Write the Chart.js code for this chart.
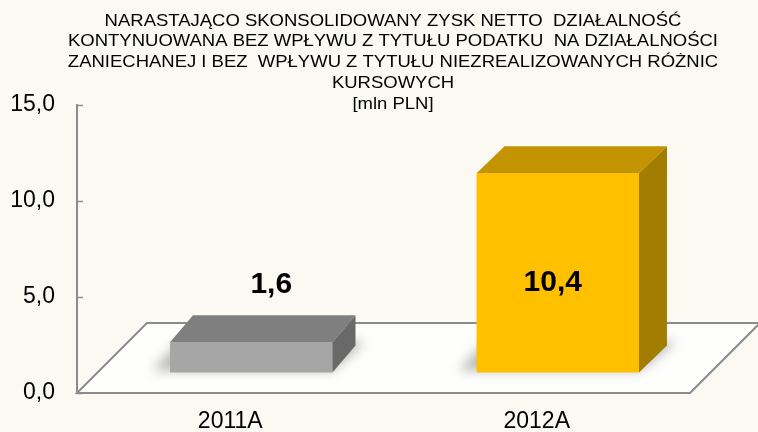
<!DOCTYPE html>
<html><head><meta charset="utf-8">
<script src="https://cdn.jsdelivr.net/npm/chart.js@4/dist/chart.umd.min.js"></script>
<style>
html,body{margin:0;padding:0;background:#FBF9F2;}
canvas{display:block;}
</style></head>
<body><canvas id="c" width="758" height="432"></canvas>
<script>
const TITLE_LINES = [
  'NARASTAJĄCO SKONSOLIDOWANY ZYSK NETTO  DZIAŁALNOŚĆ',
  'KONTYNUOWANA BEZ WPŁYWU Z TYTUŁU PODATKU  NA DZIAŁALNOŚCI',
  'ZANIECHANEJ I BEZ  WPŁYWU Z TYTUŁU NIEZREALIZOWANYCH RÓŻNIC',
  'KURSOWYCH',
  '[mln PLN]'
];
const CATEGORIES = ['2011A', '2012A'];
const VALUES = [1.6, 10.4];
const VALUE_LABELS = ['1,6', '10,4'];
const Y_MIN = 0, Y_MAX = 15, Y_STEP = 5;
const FRONT_COLORS = ['#A6A6A6', '#FFC000'];
const TOP_COLORS = ['#7F7F7F', '#C49300'];
const SIDE_COLORS = ['#696969', '#A37D00'];

const FONT = '"Liberation Sans", Arial, sans-serif';
const FLOOR_DEPTH = {dx: 70, dy: -70};
const BAR_SHIFT = {dx: 21, dy: -20};
const BAR_DEPTH_DX = [23, 28];
const BAR_DEPTH_DY = -27;
const LABEL_POS = [{dx: 41, mode: 'above', gap: 58}, {dx: 16, mode: 'fixed', value: 5.72}];
const TITLE_STYLE = {size: 16.5, scaleX: 1.12, cx: 393, y0: 21, step: 20.8};

const scene3d = {
  id: 'scene3d',
  beforeDraw(chart) {
    const ctx = chart.ctx;
    ctx.save();
    ctx.fillStyle = '#FBF9F2';
    ctx.fillRect(0, 0, chart.width, chart.height);
    ctx.restore();
  },
  beforeDatasetsDraw(chart) {
    const {ctx, chartArea: a} = chart;
    ctx.save();
    ctx.beginPath();
    ctx.moveTo(a.left, a.bottom);
    ctx.lineTo(a.right, a.bottom);
    ctx.lineTo(a.right + FLOOR_DEPTH.dx, a.bottom + FLOOR_DEPTH.dy);
    ctx.lineTo(a.left + FLOOR_DEPTH.dx, a.bottom + FLOOR_DEPTH.dy);
    ctx.closePath();
    ctx.fillStyle = '#FEFEFC';
    ctx.fill();
    ctx.strokeStyle = '#8C8C8C';
    ctx.lineWidth = 2;
    ctx.stroke();
    // soft shadows on the floor
    const meta = chart.getDatasetMeta(0);
    meta.data.forEach((el, i) => {
      const p = el.getProps(['x', 'y', 'base', 'width'], true);
      const l = p.x - p.width / 2 + BAR_SHIFT.dx, r = p.x + p.width / 2 + BAR_SHIFT.dx;
      const b = p.base + BAR_SHIFT.dy;
      ctx.save();
      ctx.filter = 'blur(6px)';
      ctx.fillStyle = 'rgba(0,0,0,0.28)';
      ctx.beginPath();
      ctx.moveTo(l - 18, b - 2);
      ctx.lineTo(r, b - 2);
      ctx.lineTo(r + BAR_DEPTH_DX[i] + 10, b + BAR_DEPTH_DY - 4);
      ctx.lineTo(l + 10, b + BAR_DEPTH_DY - 4);
      ctx.closePath();
      ctx.fill();
      ctx.restore();
    });
    ctx.restore();
  },
  beforeDatasetDraw(chart) {
    chart.ctx.save();
    chart.ctx.translate(BAR_SHIFT.dx, BAR_SHIFT.dy);
  },
  afterDatasetDraw(chart) {
    const ctx = chart.ctx;
    const meta = chart.getDatasetMeta(0);
    meta.data.forEach((el, i) => {
      const p = el.getProps(['x', 'y', 'base', 'width'], true);
      const l = p.x - p.width / 2, r = p.x + p.width / 2, t = p.y, b = p.base;
      const dx = BAR_DEPTH_DX[i], dy = BAR_DEPTH_DY;
      ctx.fillStyle = TOP_COLORS[i];
      ctx.beginPath();
      ctx.moveTo(l, t); ctx.lineTo(r, t); ctx.lineTo(r + dx, t + dy); ctx.lineTo(l + dx, t + dy); ctx.closePath();
      ctx.fill();
      ctx.fillStyle = SIDE_COLORS[i];
      ctx.beginPath();
      ctx.moveTo(r, t); ctx.lineTo(r + dx, t + dy); ctx.lineTo(r + dx, b + dy); ctx.lineTo(r, b); ctx.closePath();
      ctx.fill();
    });
    ctx.restore();
  },
  afterDraw(chart) {
    const {ctx, chartArea: a, scales} = chart;
    ctx.save();
    // inward tick marks
    ctx.strokeStyle = '#8C8C8C';
    ctx.lineWidth = 1.5;
    scales.y.ticks.forEach((tk) => {
      const y = Math.round(scales.y.getPixelForValue(tk.value)) + 0.5;
      ctx.beginPath(); ctx.moveTo(a.left, y); ctx.lineTo(a.left + 6, y); ctx.stroke();
    });
    // title
    ctx.fillStyle = '#000';
    ctx.font = TITLE_STYLE.size + 'px ' + FONT;
    ctx.textAlign = 'center';
    ctx.textBaseline = 'middle';
    TITLE_LINES.forEach((line, i) => {
      ctx.save();
      ctx.translate(TITLE_STYLE.cx, TITLE_STYLE.y0 + i * TITLE_STYLE.step);
      ctx.scale(TITLE_STYLE.scaleX, 1);
      ctx.fillText(line, 0, 0);
      ctx.restore();
    });
    // value labels
    ctx.font = 'bold 30px ' + FONT;
    const meta = chart.getDatasetMeta(0);
    meta.data.forEach((el, i) => {
      const pos = LABEL_POS[i];
      let y;
      if (pos.mode === 'above') y = el.y + BAR_SHIFT.dy - pos.gap;
      else y = scales.y.getPixelForValue(pos.value);
      ctx.fillText(VALUE_LABELS[i], el.x + pos.dx, y);
    });
    ctx.restore();
  }
};

new Chart(document.getElementById('c'), {
  type: 'bar',
  data: {
    labels: CATEGORIES,
    datasets: [{
      data: VALUES,
      backgroundColor: FRONT_COLORS,
      borderWidth: 0,
      barPercentage: 0.53,
      categoryPercentage: 1,
      clip: false
    }]
  },
  options: {
    responsive: false,
    animation: false,
    events: [],
    layout: {padding: {top: 105, left: 10, right: 68, bottom: 0}},
    plugins: {legend: {display: false}, title: {display: false}, tooltip: {enabled: false}},
    scales: {
      x: {
        grid: {display: false},
        border: {display: false},
        ticks: {color: '#000', padding: 9, font: {family: FONT, size: 23, lineHeight: 1}},
        afterFit: (s) => { s.height = 39; }
      },
      y: {
        min: Y_MIN, max: Y_MAX,
        grid: {display: true, drawOnChartArea: false, drawTicks: false},
        border: {display: true, color: '#8C8C8C', width: 2},
        ticks: {
          stepSize: Y_STEP, color: '#000', padding: 22,
          font: {family: FONT, size: 23},
          callback: (v) => v.toFixed(1).replace('.', ',')
        },
        afterFit: (s) => { s.width = 67; }
      }
    }
  },
  plugins: [scene3d]
});
</script>
</body></html>
